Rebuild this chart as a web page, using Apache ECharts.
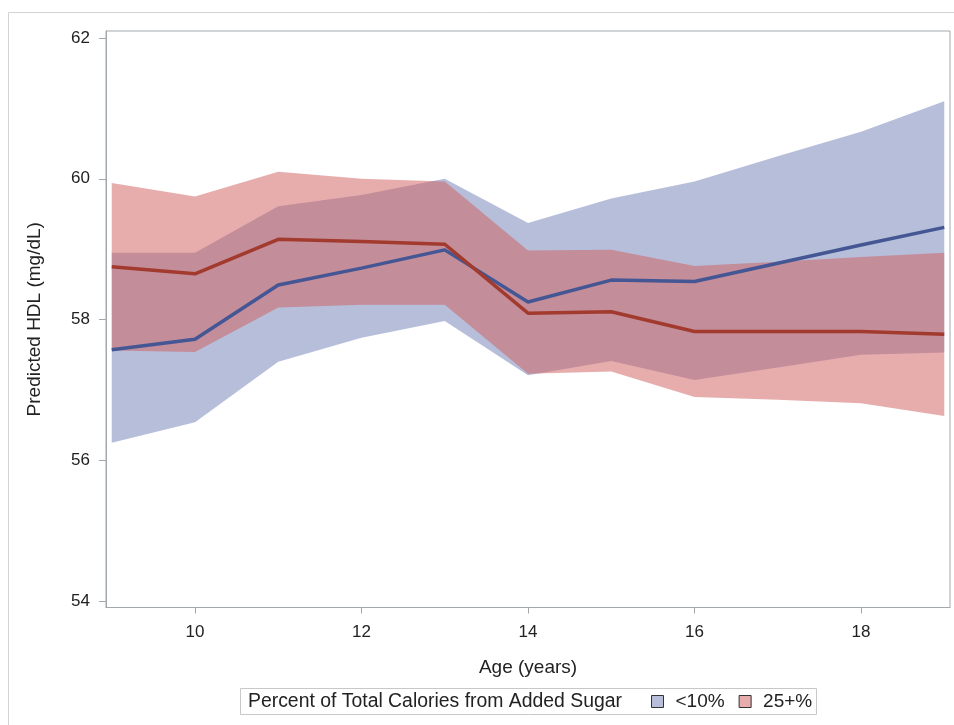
<!DOCTYPE html>
<html>
<head>
<meta charset="utf-8">
<script src="https://cdn.jsdelivr.net/npm/echarts@6/dist/echarts.min.js"></script>
<style>html,body{margin:0;padding:0;background:#fff;}#c{width:954px;height:725px;}</style>
</head>
<body>
<div id="c"></div>
<script>
// ---- data ----
const ages = [9, 10, 11, 12, 13, 14, 15, 16, 17, 18, 19];
const lowMean  = [57.57, 57.72, 58.49, 58.73, 58.99, 58.25, 58.56, 58.54, 58.80, 59.06, 59.31];
const lowLower = [56.25, 56.54, 57.40, 57.74, 57.98, 57.21, 57.41, 57.14, 57.32, 57.50, 57.53];
const lowUpper = [58.95, 58.95, 59.61, 59.77, 60.00, 59.37, 59.72, 59.96, 60.32, 60.67, 61.10];
const highMean  = [58.75, 58.65, 59.14, 59.11, 59.07, 58.09, 58.11, 57.83, 57.83, 57.83, 57.79];
const highLower = [57.56, 57.54, 58.17, 58.21, 58.21, 57.23, 57.26, 56.90, 56.86, 56.81, 56.63];
const highUpper = [59.94, 59.75, 60.10, 60.00, 59.96, 58.98, 58.99, 58.76, 58.82, 58.89, 58.95];
const xTicks = [10, 12, 14, 16, 18];
const yTicks = [54, 56, 58, 60, 62];
const groupNames = ['<10%', '25+%'];
const legendTitle = 'Percent of Total Calories from Added Sugar';
const xTitle = 'Age (years)';
const yTitle = 'Predicted HDL (mg/dL)';

const FONT = 'Liberation Sans, Arial, sans-serif';
const TXT = '#222';
const AX = '#a3a8ad';
const blueBandFill = 'rgba(111,126,179,0.5)', blueLine = '#445694';
const redBandFill = 'rgba(208,91,91,0.5)', redLine = '#A23A2E';

const pair = (xs, ys) => xs.map((x, i) => [x, ys[i]]);

function band(name, lower, upper, fill) {
  return {
    name: name, type: 'custom', silent: true, z: 2,
    data: ages.map((a, i) => [a, lower[i], upper[i]]),
    encode: { x: 0, y: [1, 2] },
    itemStyle: { color: fill },
    renderItem: function (params, api) {
      if (params.dataIndex !== 0) return null;
      const pts = [];
      for (let i = 0; i < ages.length; i++) pts.push(api.coord([ages[i], upper[i]]));
      for (let i = ages.length - 1; i >= 0; i--) pts.push(api.coord([ages[i], lower[i]]));
      return { type: 'polygon', shape: { points: pts }, style: { fill: fill, stroke: null } };
    }
  };
}

const chart = echarts.init(document.getElementById('c'), null, { renderer: 'canvas' });
chart.setOption({
  animation: false,
  backgroundColor: '#fff',
  textStyle: { fontFamily: FONT },
  grid: { left: 106, top: 31, right: 4, bottom: 117.5, show: true, borderColor: AX, borderWidth: 1, backgroundColor: 'transparent' },
  xAxis: {
    type: 'value', min: 8.931, max: 19.069,
    name: xTitle, nameLocation: 'middle', nameGap: 51,
    nameTextStyle: { fontSize: 19, color: TXT, fontFamily: FONT },
    axisLine: { show: true, lineStyle: { color: AX } },
    axisTick: { show: true, length: 6, lineStyle: { color: AX }, customValues: xTicks },
    axisLabel: { fontSize: 17, color: TXT, margin: 16, fontFamily: FONT, customValues: xTicks },
    splitLine: { show: false }
  },
  yAxis: {
    type: 'value', min: 53.908, max: 62.1,
    name: yTitle, nameLocation: 'middle', nameGap: 62,
    nameTextStyle: { fontSize: 19, color: TXT, fontFamily: FONT },
    axisLine: { show: true, lineStyle: { color: AX } },
    axisTick: { show: true, length: 7, lineStyle: { color: AX }, customValues: yTicks },
    axisLabel: { fontSize: 17, color: TXT, margin: 16, fontFamily: FONT, customValues: yTicks },
    splitLine: { show: false }
  },
  legend: {
    left: 651, top: 692, padding: 0, itemWidth: 12, itemHeight: 12, itemGap: 14,
    selectedMode: false,
    textStyle: { fontSize: 19, color: TXT, fontFamily: FONT, padding: [0, 0, 0, 7] },
    data: [
      { name: groupNames[0], icon: 'rect', itemStyle: { color: '#b7bed9', borderColor: '#333', borderWidth: 1, opacity: 1 } },
      { name: groupNames[1], icon: 'rect', itemStyle: { color: '#e7adad', borderColor: '#333', borderWidth: 1, opacity: 1 } }
    ]
  },
  graphic: [
    { type: 'rect', left: 6, top: 10, shape: { width: 970, height: 740 }, style: { fill: 'none', stroke: '#d3d3d3', lineWidth: 1 }, silent: true, z: -10 },
    { type: 'rect', left: 240, top: 688, shape: { width: 576, height: 26 }, style: { fill: '#fff', stroke: '#c8c8c8', lineWidth: 1 }, silent: true, z: -1 },
    { type: 'text', left: 248, top: 692, style: { text: legendTitle, fontSize: 19.4, fill: TXT, fontFamily: FONT }, silent: true }
  ],
  series: [
    band(groupNames[0], lowLower, lowUpper, blueBandFill),
    band(groupNames[1], highLower, highUpper, redBandFill),
    { name: groupNames[0], type: 'line', data: pair(ages, lowMean), symbol: 'none',
      lineStyle: { color: blueLine, width: 3.5 }, itemStyle: { color: blueLine }, z: 3 },
    { name: groupNames[1], type: 'line', data: pair(ages, highMean), symbol: 'none',
      lineStyle: { color: redLine, width: 3.5 }, itemStyle: { color: redLine }, z: 4 }
  ]
});
</script>
</body>
</html>
